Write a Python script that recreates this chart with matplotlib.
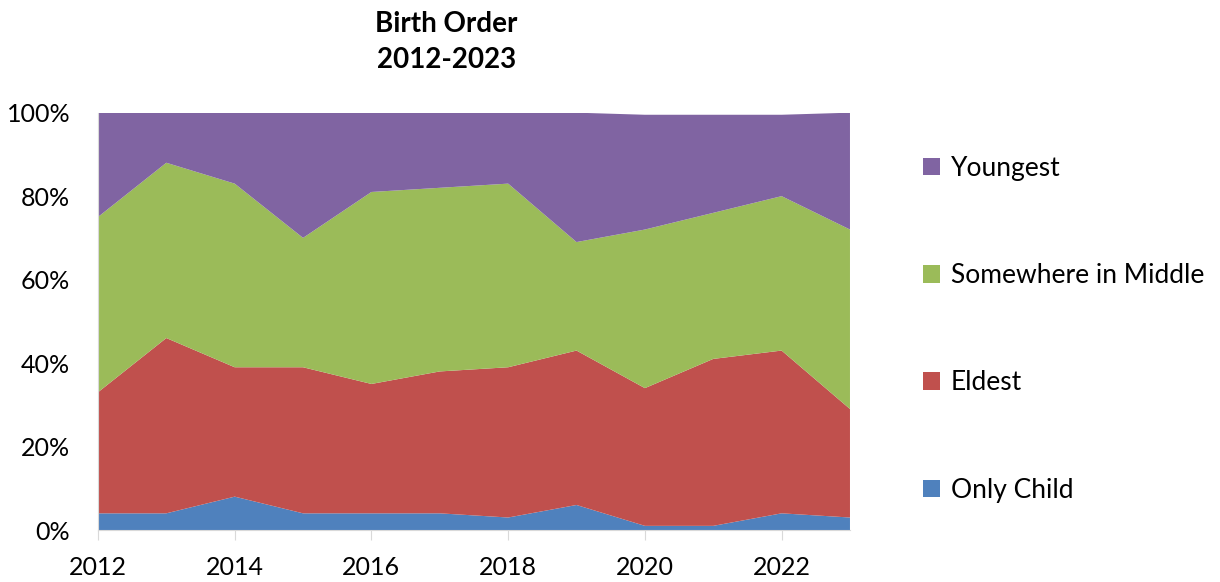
import numpy as np
import matplotlib
matplotlib.use('Agg')
import matplotlib.pyplot as plt
from matplotlib.ticker import FuncFormatter

plt.rcParams['font.family'] = ['Lato', 'DejaVu Sans']

# 데이터 (그림에서 읽은 값, %)
years = [2012, 2013, 2014, 2015, 2016, 2017, 2018, 2019, 2020, 2021, 2022, 2023]
only_child = [4, 4, 8, 4, 4, 4, 3, 6, 1, 1, 4, 3]
eldest = [29, 42, 31, 35, 31, 34, 36, 37, 33, 40, 39, 26]
middle = [42, 42, 44, 31, 46, 44, 44, 26, 38, 35, 37, 43]
youngest = [25, 12, 17, 30, 19, 18, 17, 31, 27.5, 23.5, 19.5, 28]
labels = ['Only Child', 'Eldest', 'Somewhere in Middle', 'Youngest']
colors = ['#4F81BD', '#C0504D', '#9BBB59', '#8064A2']

fig = plt.figure(figsize=(12.2, 5.82), dpi=100)
ax = fig.add_axes([0.0803, 0.0893, 0.6164, 0.7171])

polys = ax.stackplot(years, only_child, eldest, middle, youngest,
                     colors=colors, labels=labels, edgecolor='none')

ax.set_xlim(2012, 2023)
ax.set_ylim(0, 100)
ax.set_xticks(range(2012, 2023, 2))
ax.set_yticks(range(0, 101, 20))
ax.yaxis.set_major_formatter(FuncFormatter(lambda v, p: '%d%%' % v))

for s in ['top', 'right']:
    ax.spines[s].set_visible(False)
for s in ['left', 'bottom']:
    ax.spines[s].set_color('#D9D9D9')
ax.tick_params(axis='x', length=7, color='#D9D9D9', labelsize=18, pad=12)
ax.tick_params(axis='y', length=0, labelsize=18, pad=20)

fig.text(0.366, 0.928, 'Birth Order\n2012-2023', ha='center', va='center',
         fontsize=20, fontweight='bold', linespacing=1.45)

h, l = ax.get_legend_handles_labels()
leg = ax.legend(h[::-1], l[::-1], loc='center left', bbox_to_anchor=(1.066, 0.481),
                frameon=False, fontsize=19, handlelength=0.64, handleheight=0.64,
                handletextpad=0.4, labelspacing=3.12)

fig.savefig('out.png', dpi=100)
